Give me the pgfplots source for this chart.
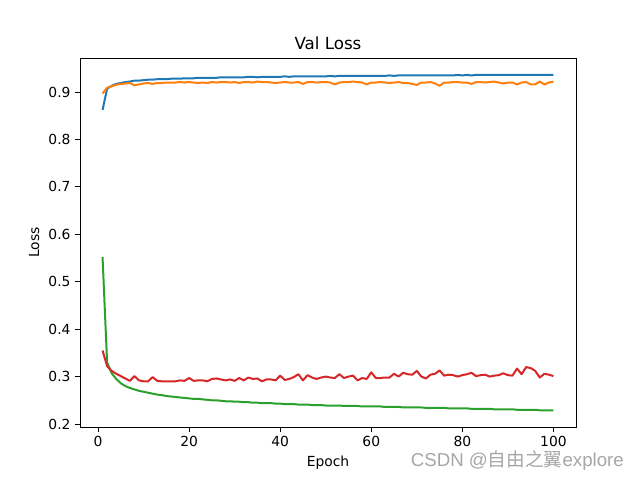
\documentclass[border=0pt]{standalone}
\usepackage{pgfplots}
\pgfplotsset{compat=1.18}
\usepackage{pgfplotstable}
\usepackage{fontspec}
\setmainfont{DejaVu Sans}
\newfontfamily\cjk{Noto Sans CJK SC}
\newfontfamily\wm{Liberation Sans}
\definecolor{c0}{HTML}{1F77B4}
\definecolor{c1}{HTML}{FF7F0E}
\definecolor{c2}{HTML}{2CA02C}
\definecolor{c3}{HTML}{D62728}
\pgfplotstableread{
e b o g r
1 0.862 0.897 0.552 0.355
2 0.907 0.909 0.330 0.322
3 0.913 0.912 0.307 0.312
4 0.917 0.915 0.295 0.306
5 0.919 0.917 0.286 0.301
6 0.921 0.918 0.280 0.296
7 0.922 0.919 0.276 0.291
8 0.924 0.914 0.273 0.301
9 0.924 0.916 0.270 0.292
10 0.925 0.918 0.268 0.290
11 0.926 0.919 0.266 0.290
12 0.926 0.917 0.264 0.299
13 0.927 0.919 0.262 0.291
14 0.927 0.919 0.261 0.290
15 0.927 0.920 0.259 0.290
16 0.928 0.920 0.258 0.290
17 0.928 0.920 0.257 0.290
18 0.928 0.921 0.256 0.292
19 0.929 0.920 0.255 0.291
20 0.929 0.921 0.254 0.297
21 0.929 0.920 0.253 0.291
22 0.930 0.919 0.253 0.292
23 0.930 0.920 0.252 0.292
24 0.930 0.919 0.251 0.290
25 0.930 0.921 0.250 0.295
26 0.930 0.920 0.250 0.296
27 0.931 0.921 0.249 0.294
28 0.931 0.921 0.248 0.292
29 0.931 0.920 0.248 0.294
30 0.931 0.921 0.247 0.291
31 0.931 0.919 0.247 0.297
32 0.931 0.921 0.246 0.292
33 0.932 0.921 0.246 0.298
34 0.932 0.920 0.245 0.295
35 0.931 0.922 0.245 0.296
36 0.932 0.921 0.244 0.290
37 0.932 0.921 0.244 0.294
38 0.932 0.920 0.244 0.294
39 0.932 0.919 0.243 0.292
40 0.932 0.920 0.243 0.302
41 0.933 0.921 0.242 0.293
42 0.932 0.920 0.242 0.295
43 0.933 0.920 0.242 0.299
44 0.933 0.921 0.241 0.305
45 0.933 0.917 0.241 0.292
46 0.933 0.921 0.241 0.303
47 0.933 0.921 0.240 0.298
48 0.933 0.920 0.240 0.295
49 0.933 0.921 0.240 0.298
50 0.933 0.921 0.239 0.300
51 0.934 0.920 0.239 0.298
52 0.933 0.916 0.239 0.297
53 0.934 0.920 0.239 0.305
54 0.934 0.921 0.238 0.297
55 0.934 0.921 0.238 0.300
56 0.934 0.922 0.238 0.302
57 0.934 0.921 0.238 0.292
58 0.934 0.920 0.237 0.297
59 0.934 0.916 0.237 0.295
60 0.934 0.920 0.237 0.309
61 0.934 0.920 0.237 0.297
62 0.934 0.921 0.237 0.297
63 0.934 0.920 0.236 0.298
64 0.935 0.919 0.236 0.298
65 0.934 0.920 0.236 0.306
66 0.935 0.921 0.236 0.300
67 0.935 0.919 0.235 0.308
68 0.935 0.919 0.235 0.305
69 0.935 0.917 0.235 0.304
70 0.935 0.915 0.235 0.312
71 0.935 0.920 0.235 0.300
72 0.935 0.920 0.234 0.296
73 0.935 0.921 0.234 0.304
74 0.935 0.918 0.234 0.306
75 0.935 0.913 0.234 0.313
76 0.935 0.920 0.234 0.302
77 0.935 0.920 0.233 0.304
78 0.935 0.921 0.233 0.303
79 0.936 0.921 0.233 0.300
80 0.935 0.920 0.233 0.303
81 0.936 0.920 0.233 0.305
82 0.935 0.917 0.232 0.308
83 0.936 0.921 0.232 0.301
84 0.936 0.921 0.232 0.303
85 0.936 0.920 0.232 0.304
86 0.936 0.921 0.232 0.300
87 0.936 0.922 0.231 0.302
88 0.936 0.920 0.231 0.303
89 0.936 0.918 0.231 0.307
90 0.936 0.920 0.231 0.303
91 0.936 0.920 0.231 0.302
92 0.936 0.916 0.230 0.317
93 0.936 0.920 0.230 0.305
94 0.936 0.921 0.230 0.320
95 0.936 0.916 0.230 0.318
96 0.936 0.916 0.230 0.312
97 0.936 0.922 0.229 0.298
98 0.936 0.916 0.229 0.306
99 0.936 0.920 0.229 0.304
100 0.936 0.922 0.229 0.301
}\data
\begin{document}
\begin{tikzpicture}
\useasboundingbox (-60pt,-39.75pt) rectangle (420pt,320.25pt);
\begin{axis}[
  at={(0,0)}, anchor=south west,
  scale only axis, width=372pt, height=276.75pt,
  xmin=-3.95, xmax=104.95, ymin=0.1937, ymax=0.9717,
  xtick={0,20,40,60,80,100},
  ytick={0.2,0.3,0.4,0.5,0.6,0.7,0.8,0.9},
  yticklabel style={/pgf/number format/.cd,fixed,fixed zerofill,precision=1},
  /pgf/number format/assume math mode=true,
  tick align=outside, tick pos=left,
  major tick length=3.6pt,
  every tick/.style={black, line width=0.6pt},
  axis line style={line width=0.6pt},
  tick label style={font=\fontsize{10.4}{12}\selectfont},
  label style={font=\fontsize{10.4}{12}\selectfont},
  title style={font=\fontsize{12.5}{15}\selectfont, yshift=-3pt},
  title={Val Loss},
  xlabel={Epoch}, ylabel={Loss},
  every axis plot/.append style={line width=1.5pt, line join=round},
]
\addplot[c0, no markers] table[x=e, y=b] {\data};
\addplot[c1, no markers] table[x=e, y=o] {\data};
\addplot[c2, no markers] table[x=e, y=g] {\data};
\addplot[c3, no markers] table[x=e, y=r] {\data};
\end{axis}
\node[text=black!35, font=\wm\fontsize{14}{16}\selectfont, inner sep=0pt] at (328pt,-25.5pt) {CSDN @{\cjk 自由之翼}explore};
\end{tikzpicture}
\end{document}
